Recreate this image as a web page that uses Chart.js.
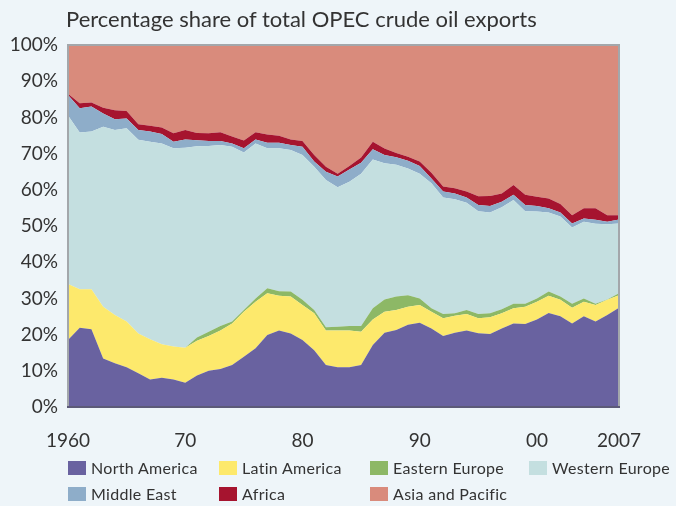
<!DOCTYPE html>
<html>
<head>
<meta charset="utf-8">
<script src="https://cdn.jsdelivr.net/npm/chart.js@4"></script>
<style>
    html, body { margin: 0; padding: 0; background: #eef5f9; }
    #wrap { position: relative; width: 676px; height: 506px; overflow: hidden; }
    #oilChart { position: absolute; left: 0; top: 0; }
    #title { position: absolute; left: 66px; top: 5px; font-family: Lato, sans-serif; font-size: 22px; color: #333; white-space: nowrap; }
    .legendItem { position: absolute; height: 20px; font-family: Lato, sans-serif; font-size: 16px; color: #333; letter-spacing: 0.3px; white-space: nowrap; }
    .legendItem span.box { position: absolute; left: 0; top: 3px; width: 18px; height: 14px; }
    .legendItem span.txt { position: absolute; left: 23px; top: 0; line-height: 20px; }
</style>
</head>
<body>
<div id="wrap">
    <canvas id="oilChart" width="676" height="506"></canvas>
    <div id="title">Percentage share of total OPEC crude oil exports</div>
</div>
<script>
const years = [];
for (let y = 1960; y <= 2007; y++) years.push(String(y));

const xTickYears = ['1960', '1970', '1980', '1990', '2000', '2007'];
const xTickLabels = ['1960', '70', '80', '90', '00', '2007'];
const yTickLabels = ['0%', '10%', '20%', '30%', '40%', '50%', '60%', '70%', '80%', '90%', '100%'];

const seriesNames = ['North America', 'Latin America', 'Eastern Europe', 'Western Europe', 'Middle East', 'Africa', 'Asia and Pacific'];
const seriesColors = ['#6962a0', '#fde96c', '#8db866', '#c4dfe0', '#8eadc9', '#a6142f', '#d98b7c'];

const northAmerica = [18.5, 21.9, 21.5, 13.4, 12.1, 11.0, 9.3, 7.6, 8.1, 7.6, 6.7, 8.7, 10.0, 10.5, 11.6, 13.9, 16.2, 19.9, 21.1, 20.3, 18.5, 15.7, 11.6, 11.0, 11.0, 11.6, 17.1, 20.5, 21.3, 22.7, 23.3, 21.7, 19.6, 20.5, 21.1, 20.4, 20.2, 21.7, 23.1, 22.9, 24.2, 26.0, 25.1, 23.1, 25.1, 23.6, 25.4, 27.4];
const latinAmerica = [15.5, 10.6, 11.0, 14.3, 13.3, 12.6, 11.0, 11.1, 9.2, 9.1, 9.7, 9.6, 9.6, 10.6, 11.5, 12.4, 12.9, 11.5, 9.6, 10.2, 9.7, 10.2, 9.5, 10.1, 10.1, 9.2, 7.1, 5.8, 5.5, 5.0, 4.9, 4.6, 4.9, 4.7, 4.6, 4.1, 4.6, 4.2, 4.2, 4.8, 4.9, 4.7, 4.5, 4.3, 4.0, 4.6, 4.2, 3.5];
const easternEurope = [0, 0, 0, 0, 0, 0, 0, 0, 0, 0, 0, 0.9, 1.2, 1.3, 0.5, 0.5, 0.9, 1.4, 1.3, 1.4, 1.4, 0.9, 0.9, 1.1, 1.3, 1.6, 3.1, 3.4, 3.7, 3.2, 1.8, 1.0, 1.2, 0.7, 1.1, 1.2, 1.1, 1.1, 1.2, 0.8, 0.9, 1.2, 0.9, 1.1, 0.9, 0.3, 0.1, 0.5];
const westernEurope = [46.5, 43.3, 43.6, 49.7, 51.1, 53.4, 53.5, 54.6, 55.5, 54.8, 55.2, 52.8, 51.3, 50.0, 48.3, 43.5, 42.8, 38.7, 39.5, 39.1, 40.0, 39.6, 40.7, 38.5, 39.8, 42.0, 41.1, 37.6, 36.4, 35.0, 34.4, 34.5, 32.2, 31.5, 29.6, 28.4, 27.8, 28.2, 28.7, 25.6, 24.0, 21.8, 22.1, 21.1, 21.2, 22.1, 20.8, 19.3];
const middleEast = [5.7, 6.7, 6.9, 3.7, 3.0, 2.7, 2.7, 2.8, 2.6, 1.8, 2.3, 1.7, 1.4, 1.1, 0.9, 1.2, 1.1, 1.5, 1.5, 1.4, 2.3, 1.4, 2.3, 3.0, 3.4, 3.1, 2.8, 2.3, 2.1, 2.1, 2.2, 1.3, 1.6, 1.6, 1.5, 1.7, 1.8, 1.5, 1.4, 1.7, 1.5, 1.2, 1.1, 1.1, 0.9, 1.1, 0.7, 1.1];
const africa = [0.3, 1.4, 1.1, 1.6, 2.5, 2.1, 1.6, 1.6, 1.8, 2.3, 2.6, 2.0, 2.1, 2.4, 1.9, 2.1, 2.0, 2.3, 1.9, 1.5, 1.6, 1.8, 1.4, 0.7, 1.0, 1.4, 2.1, 1.8, 1.2, 1.1, 1.2, 1.6, 1.4, 1.4, 1.6, 2.4, 2.8, 2.3, 2.7, 2.8, 2.6, 2.7, 2.4, 2.3, 2.8, 3.2, 1.8, 1.2];
const asiaPacific = [13.5, 16.1, 15.9, 17.3, 18.0, 18.2, 21.9, 22.3, 22.8, 24.4, 23.5, 24.3, 24.4, 24.1, 25.3, 26.4, 24.1, 24.7, 25.1, 26.1, 26.5, 30.4, 33.6, 35.6, 33.4, 31.1, 26.7, 28.6, 29.8, 30.9, 32.2, 35.3, 39.1, 39.6, 40.5, 41.8, 41.7, 41.0, 38.7, 41.4, 41.9, 42.4, 43.9, 47.0, 45.1, 45.1, 47.0, 47.0];

const seriesValues = [northAmerica, latinAmerica, easternEurope, westernEurope, middleEast, africa, asiaPacific];

// frame round the plot area
const framePlugin = {
    id: 'frame',
    afterDraw(chart) {
        const { ctx, chartArea: a } = chart;
        ctx.save();
        ctx.strokeStyle = '#a3a7ab';
        ctx.lineWidth = 2;
        ctx.beginPath();
        ctx.moveTo(a.left, a.bottom);
        ctx.lineTo(a.left, a.top);
        ctx.lineTo(a.right, a.top);
        ctx.lineTo(a.right, a.bottom);
        ctx.stroke();
        ctx.strokeStyle = '#5c5a78';
        ctx.beginPath();
        ctx.moveTo(a.left - 1, a.bottom);
        ctx.lineTo(a.right + 1, a.bottom);
        ctx.stroke();
        ctx.restore();
    }
};

const datasets = seriesNames.map((name, i) => ({
    label: name,
    data: seriesValues[i],
    backgroundColor: seriesColors[i],
    borderColor: seriesColors[i],
    borderWidth: 0,
    pointRadius: 0,
    tension: 0,
    fill: i === 0 ? 'origin' : '-1'
}));

const ctx = document.getElementById('oilChart').getContext('2d');
new Chart(ctx, {
    type: 'line',
    data: { labels: years, datasets: datasets },
    plugins: [framePlugin],
    options: {
        responsive: false,
        animation: false,
        layout: { padding: { top: 45, right: 57, bottom: 0, left: 0 } },
        plugins: {
            legend: { display: false },
            title: { display: false },
            tooltip: { enabled: false }
        },
        scales: {
            x: {
                type: 'category',
                offset: false,
                grid: { display: false, drawTicks: false },
                border: { display: false },
                afterFit: function(scale) { scale.height = 99; },
                ticks: {
                    autoSkip: false,
                    maxRotation: 0,
                    padding: 22,
                    color: '#333',
                    font: { family: 'Lato', size: 19 },
                    callback: function(value) {
                        const lbl = this.getLabelForValue(value);
                        const k = xTickYears.indexOf(lbl);
                        return k >= 0 ? xTickLabels[k] : '';
                    }
                }
            },
            y: {
                stacked: true,
                min: 0,
                max: 100,
                grid: { display: false, drawTicks: false },
                border: { display: false },
                afterFit: function(scale) { scale.width = 68; },
                ticks: {
                    stepSize: 10,
                    padding: 10,
                    color: '#333',
                    font: { family: 'Lato', size: 19 },
                    callback: function(value) {
                        return yTickLabels[Math.round(value / 10)];
                    }
                }
            }
        }
    }
});

// legend, two rows in fixed columns
const legendCols = [68, 219, 370, 529];
const legendRows = [458, 484];
const wrap = document.getElementById('wrap');
seriesNames.forEach((name, i) => {
    const item = document.createElement('div');
    item.className = 'legendItem';
    item.style.left = legendCols[i % 4] + 'px';
    item.style.top = legendRows[Math.floor(i / 4)] + 'px';
    item.innerHTML = '<span class="box" style="background:' + seriesColors[i] + '"></span><span class="txt">' + name + '</span>';
    wrap.appendChild(item);
});
</script>
</body>
</html>
